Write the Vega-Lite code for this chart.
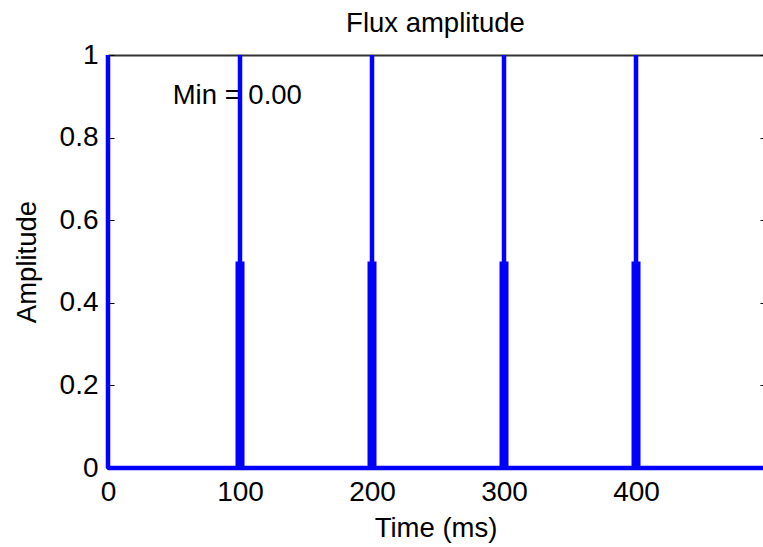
{
  "$schema": "https://vega.github.io/schema/vega-lite/v6.json",
  "width": 655,
  "height": 413,
  "autosize": {"type": "none"},
  "padding": {"left": 108, "top": 55, "right": 0, "bottom": 79},
  "background": "white",
  "config": {
    "view": {"stroke": null},
    "font": "Liberation Sans",
    "axis": {
      "labelFont": "Liberation Sans",
      "titleFont": "Liberation Sans",
      "labelFontSize": 28,
      "titleFontSize": 27.5,
      "titleFontWeight": "normal",
      "labelColor": "black",
      "titleColor": "black",
      "grid": false,
      "labelFlush": false,
      "domainColor": "black",
      "tickColor": "black"
    }
  },
  "title": {"text": "Flux amplitude", "fontSize": 27.5, "fontWeight": "normal", "font": "Liberation Sans", "color": "black", "offset": 4},
  "datasets": {
    "signal": [
      {"i": 0, "t": 0, "a": 1},
      {"i": 1, "t": 0, "a": 0},
      {"i": 2, "t": 100, "a": 0},
      {"i": 3, "t": 100, "a": 1},
      {"i": 4, "t": 100, "a": 0},
      {"i": 5, "t": 200, "a": 0},
      {"i": 6, "t": 200, "a": 1},
      {"i": 7, "t": 200, "a": 0},
      {"i": 8, "t": 300, "a": 0},
      {"i": 9, "t": 300, "a": 1},
      {"i": 10, "t": 300, "a": 0},
      {"i": 11, "t": 400, "a": 0},
      {"i": 12, "t": 400, "a": 1},
      {"i": 13, "t": 400, "a": 0},
      {"i": 14, "t": 500, "a": 0}
    ],
    "pulses": [
      {"t": 100, "lo": 0, "hi": 0.5},
      {"t": 200, "lo": 0, "hi": 0.5},
      {"t": 300, "lo": 0, "hi": 0.5},
      {"t": 400, "lo": 0, "hi": 0.5}
    ],
    "label": [
      {"t": 49, "a": 0.881, "text": "Min = 0.00"}
    ]
  },
  "resolve": {"axis": {"x": "independent", "y": "independent"}},
  "layer": [
    {
      "data": {"name": "label"},
      "mark": {"type": "text", "align": "left", "baseline": "alphabetic", "fontSize": 27.5, "font": "Liberation Sans", "color": "black"},
      "encoding": {
        "x": {"field": "t", "type": "quantitative", "scale": {"domain": [0, 496.2], "nice": false, "zero": false},
          "axis": {"orient": "top", "labels": false, "title": null, "values": [0, 100, 200, 300, 400], "tickSize": -6, "domainColor": "#333333", "domainWidth": 2}},
        "y": {"field": "a", "type": "quantitative", "scale": {"domain": [0, 1], "nice": false},
          "axis": {"orient": "right", "labels": false, "title": null, "domain": false, "values": [0, 0.2, 0.4, 0.6, 0.8, 1], "tickSize": -3}},
        "text": {"field": "text", "type": "nominal"}
      }
    },
    {
      "data": {"name": "pulses"},
      "mark": {"type": "rule", "color": "#0000ff", "strokeWidth": 9},
      "encoding": {
        "x": {"field": "t", "type": "quantitative", "axis": null},
        "y": {"field": "lo", "type": "quantitative", "axis": null},
        "y2": {"field": "hi"}
      }
    },
    {
      "data": {"name": "signal"},
      "mark": {"type": "line", "color": "#0000ff", "strokeWidth": 4.5, "strokeJoin": "bevel"},
      "encoding": {
        "x": {"field": "t", "type": "quantitative",
          "axis": {"orient": "bottom", "title": "Time (ms)", "values": [0, 100, 200, 300, 400], "format": "d", "ticks": false, "labelPadding": 10, "titlePadding": 8, "domain": false}},
        "y": {"field": "a", "type": "quantitative",
          "axis": {"orient": "left", "title": "Amplitude", "values": [0, 0.2, 0.4, 0.6, 0.8, 1], "format": "~g", "tickSize": -6, "labelPadding": 16, "titlePadding": 18, "domain": false}},
        "order": {"field": "i", "type": "quantitative"}
      }
    }
  ]
}
